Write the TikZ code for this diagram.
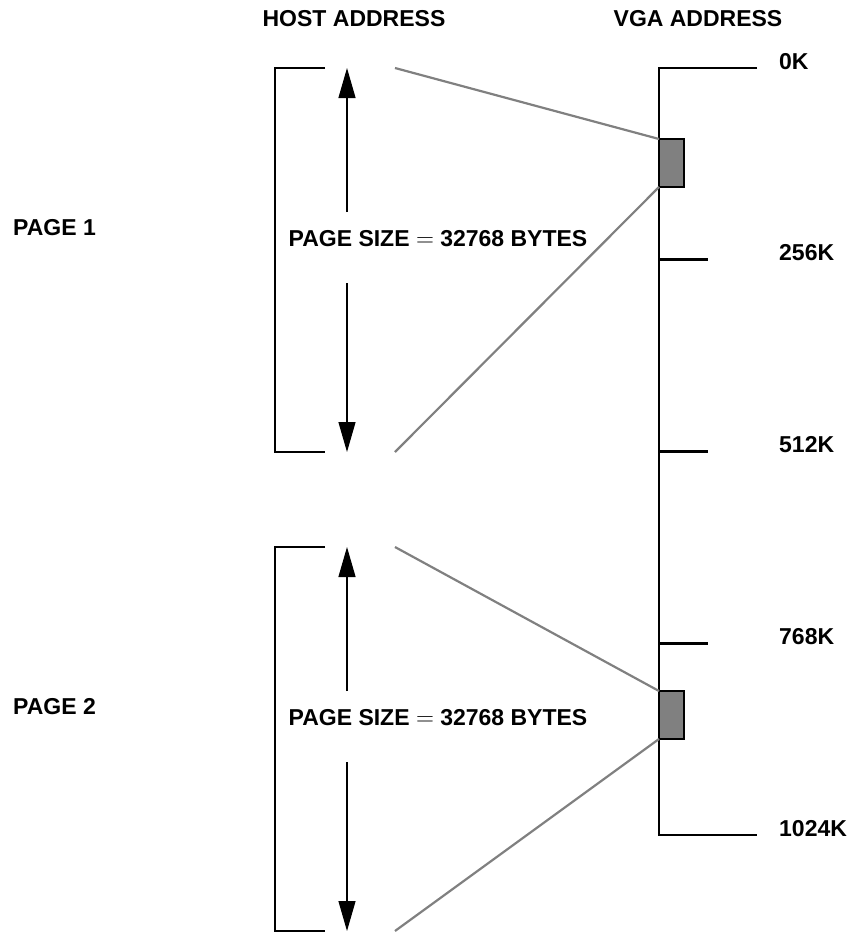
\documentclass[tikz,border=0pt]{standalone}
\usepackage{fontspec}
\setmainfont{Liberation Sans}
\usetikzlibrary{positioning,arrows.meta,calc}

\begin{document}
\begin{tikzpicture}[x=1pt,y=-1pt,line join=miter,
  font=\fontsize{23}{27}\selectfont\bfseries,
  bracket/.style={black,line width=2.8pt},
  span/.style={black,line width=1.2pt,-{Triangle[length=30pt,width=17pt]}},
  map/.style={draw=black!50,line width=2.2pt},
  window/.style={draw=black,fill=black!50,line width=2.8pt,minimum width=25pt,minimum height=48pt,inner sep=0pt,outer sep=0pt},
  lbl/.style={inner sep=0pt}]
  \useasboundingbox (0,0) rectangle (853,932);
  \node[lbl] (host) at (354,19) {HOST ADDRESS};
  \node[lbl] (vga) at (698,19) {VGA ADDRESS};
  % vga address axis
  \coordinate (v0) at (659,68);
  \coordinate (v4) at (659,835);
  \draw[bracket] (757,68) -- (v0) -- (v4) -- (757,835);
  \foreach \y/\k in {68/0K,835/1024K}
    \node[lbl,anchor=west] at (779,\y-6) {\k};
  \foreach \y/\k in {259.75/256K,451.5/512K,643.25/768K}{
    \draw[bracket] (659,\y) -- (708,\y);
    \node[lbl,anchor=west] at (779,\y-7) {\k};
  }
  \node[window,anchor=north west] (win1) at (659,139) {};
  \node[window,anchor=north west] (win2) at (659,691) {};
  % host pages
  \foreach \t/\n/\w in {68/1/win1,547/2/win2}{
    \coordinate (pt\n) at (325,\t);
    \coordinate (pb\n) at (325,\t+384);
    \draw[bracket] (pt\n) -- (275,\t) -- (275,\t+384) -- (pb\n);
    \node[lbl,anchor=west] (page\n) at (13,\t+160) {PAGE \n};
    \node[lbl] (size\n) at (438,\t+171) {PAGE SIZE $=$ 32768 BYTES};
    \draw[span] (347,\t+144) -- (347,\t);
    \draw[span] (347,\t+215) -- (347,\t+384);
    \coordinate (mt\n) at (395,\t);
    \coordinate (mb\n) at (395,\t+384);
    \draw[map] (mt\n) -- (\w.north west);
    \draw[map] (mb\n) -- (\w.south west);
  }
\end{tikzpicture}
\end{document}
